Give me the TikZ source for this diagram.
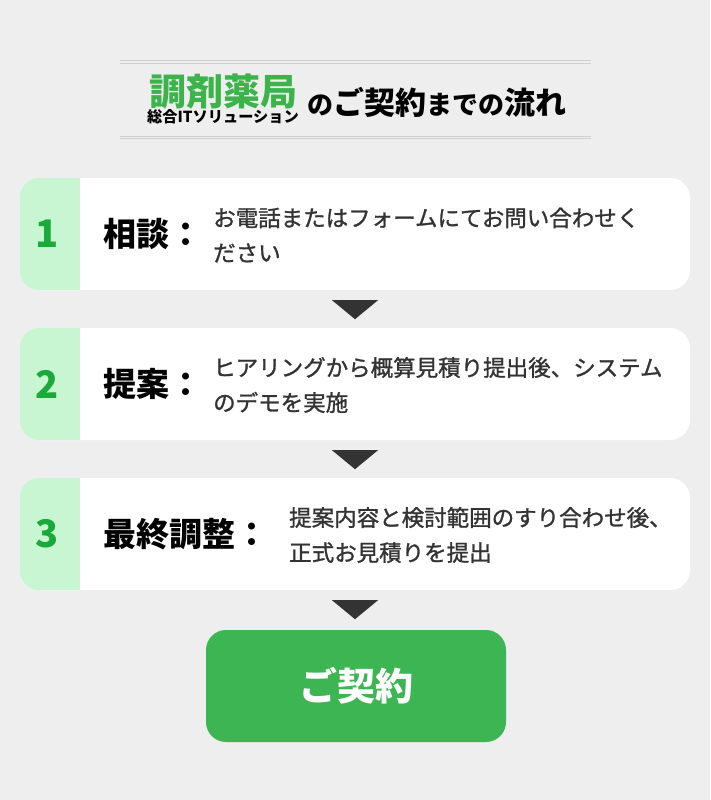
\documentclass[tikz,border=0pt]{standalone}
\usepackage{fontspec}
\setmainfont{Noto Sans CJK JP}
\newfontfamily\descfont{Noto Sans CJK JP}[FakeBold=1.2]
\usepackage{xcolor}
\usetikzlibrary{positioning,calc}

\definecolor{bggray}{HTML}{EEEEEE}
\definecolor{stripgreen}{HTML}{C8F5D2}
\definecolor{numgreen}{HTML}{1AAA3A}
\definecolor{btngreen}{HTML}{3DB553}
\definecolor{headgreen}{HTML}{3CB44B}
\definecolor{txtgray}{HTML}{333333}
\definecolor{linegray}{HTML}{CFCFCF}

\tikzset{
	stepbox/.style={fill=white, rounded corners=20pt, minimum width=670pt, minimum height=112pt, inner sep=0pt},
	stepnum/.style={text=numgreen, font=\fontsize{38}{38}\selectfont\bfseries, inner sep=0pt},
	steptitle/.style={anchor=west, font=\fontsize{33}{33}\selectfont\bfseries, inner sep=0pt},
	stepdesc/.style={anchor=west, align=left, text=txtgray, font=\descfont\fontsize{22.5}{35}\selectfont, inner sep=0pt},
	tri/.style={fill=txtgray},
	hline/.style={linegray, line width=1pt}
}

\begin{document}
\begin{tikzpicture}[x=1pt,y=-1pt]
	%background
	\fill[bggray] (0,0) rectangle (710,800);
	\useasboundingbox (0,0) rectangle (710,800);
	%header
	\draw[hline] (120,61)--(591,61);
	\draw[hline] (120,63.5)--(591,63.5);
	\draw[hline] (120,136)--(591,136);
	\draw[hline] (120,138.5)--(591,138.5);
	\node[inner sep=0pt, text=headgreen, font=\fontsize{37}{37}\selectfont\bfseries] (brand) at (223,92) {調剤薬局};
	\node[inner sep=0pt, font=\fontsize{15.2}{15.2}\selectfont\bfseries] (sub) at (223,117) {総合ITソリューション};
	\node[anchor=west, inner sep=0pt, font=\bfseries] (head) at (307,102) {{\fontsize{26}{26}\selectfont の}{\fontsize{31}{31}\selectfont ご契約}{\fontsize{26}{26}\selectfont までの}{\fontsize{31}{31}\selectfont 流れ}};
	%steps
	\foreach \n/\y/\ttl/\dx/\la/\lb in {1/234/相談：/213/お電話またはフォームにてお問い合わせく/ださい, 2/384/提案：/213/ヒアリングから概算見積り提出後、システム/のデモを実施, 3/534/最終調整：/289/提案内容と検討範囲のすり合わせ後、/正式お見積りを提出}{
		\node[stepbox] (s\n) at (355,\y) {};
		\begin{scope}
			\clip[rounded corners=20pt] (s\n.north west) rectangle (s\n.south east);
			\fill[stripgreen] (s\n.north west) rectangle ([xshift=60pt]s\n.south west);
		\end{scope}
		\node[stepnum] (n\n) at ([xshift=27pt]s\n.west) {\n};
		\node[steptitle] (t\n) at (103,\y) {\ttl};
		\node[stepdesc] (d\n) at (\dx,\y+1) {\la\\\lb};
	}
	%contract
	\node[fill=btngreen, rounded corners=20pt, minimum width=300pt, minimum height=112pt, text=white, font=\fontsize{38}{38}\selectfont\bfseries] (btn) at (356,686) {ご契約};
	%arrows
	\foreach \a in {s1,s2,s3}
		\fill[tri] ($(\a.south)+(-23,10)$) -- ($(\a.south)+(23,10)$) -- ($(\a.south)+(0,29)$) -- cycle;
\end{tikzpicture}
\end{document}
